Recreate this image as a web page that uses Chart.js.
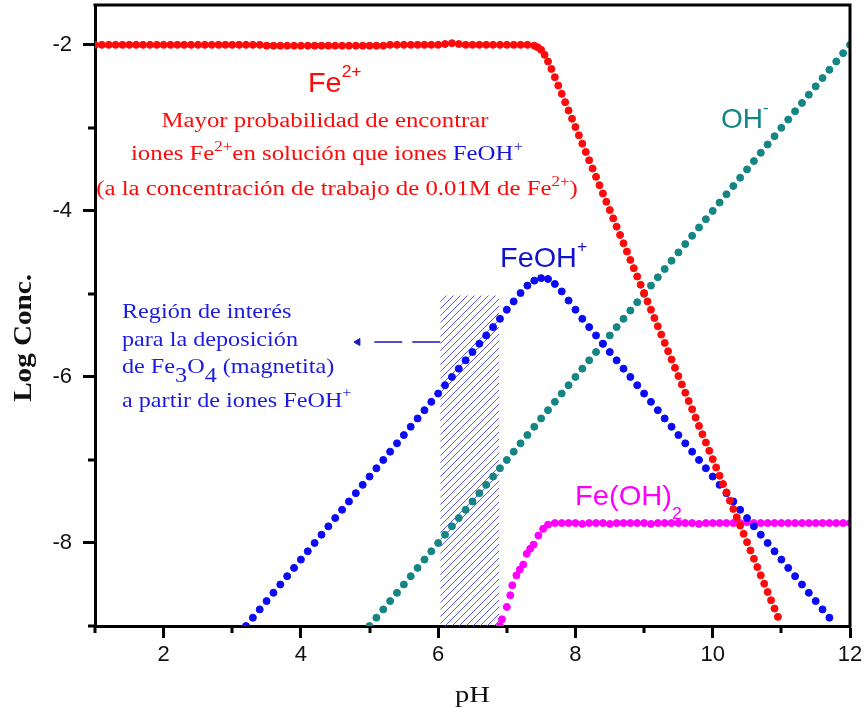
<!DOCTYPE html>
<html><head><meta charset="utf-8">
<script src="https://cdn.jsdelivr.net/npm/chart.js@4.4.1/dist/chart.umd.min.js"></script>
<style>html,body{margin:0;padding:0;background:#fff;}canvas{display:block;}</style>
</head><body>
<canvas id="c" width="865" height="710"></canvas>
<script>
// ---------- tick labels ----------
const xTickLabels = [2, 4, 6, 8, 10, 12];
const yTickLabels = [-2, -4, -6, -8];
const xMinorTicks = [1, 3, 5, 7, 9, 11];
const yMinorTicks = [-9, -7, -5, -3];

// ---------- Fe2+ ----------
const fe2PH = [1.0,1.1,1.2,1.3,1.4,1.5,1.6,1.7,1.8,1.9,
  2.0,2.1,2.2,2.3,2.4,2.5,2.6,2.7,2.8,2.9,
  3.0,3.1,3.2,3.3,3.4,3.5,3.6,3.7,3.8,3.9,
  4.0,4.1,4.2,4.3,4.4,4.5,4.6,4.7,4.8,4.9,
  5.0,5.1,5.2,5.3,5.4,5.5,5.6,5.7,5.8,5.9,
  6.0,6.1,6.2,6.3,6.4,6.5,6.6,6.7,6.8,6.9,
  7.0,7.1,7.2,7.3,7.4,
  7.45,7.5,7.55,7.6,7.65,7.7,7.75,7.8,7.85,7.9,7.95,
  8.0,8.05,8.1,8.15,8.2,8.25,8.3,8.35,8.4,8.45,8.5,8.55,8.6,8.65,8.7,8.75,8.8,8.85,8.9,8.95,
  9.0,9.05,9.1,9.15,9.2,9.25,9.3,9.35,9.4,9.45,9.5,9.55,9.6,9.65,9.7,9.75,9.8,9.85,9.9,9.95,
  10.0,10.05,10.1,10.15,10.2,10.25,10.3,10.35,10.4,10.45,10.5,10.55,10.6,10.65,10.7,10.75,10.8,10.85,10.9,10.95];
const fe2Log = [-2.00,-2.00,-2.00,-2.00,-2.00,-2.00,-2.00,-2.00,-2.00,-2.00,
  -2.00,-2.00,-2.00,-2.00,-2.00,-2.00,-2.00,-2.00,-2.00,-2.00,
  -2.00,-2.00,-2.00,-2.00,-2.00,-2.01,-2.01,-2.01,-2.01,-2.01,
  -2.01,-2.01,-2.01,-2.01,-2.01,-2.01,-2.01,-2.01,-2.01,-2.01,
  -2.01,-2.01,-2.01,-2.00,-2.00,-2.00,-2.00,-2.00,-2.00,-2.00,
  -2.00,-1.99,-1.98,-1.99,-2.00,-2.00,-2.00,-2.00,-2.00,-2.00,
  -2.00,-2.00,-2.00,-2.00,-2.01,
  -2.03,-2.06,-2.12,-2.20,-2.29,-2.39,-2.49,-2.59,-2.69,-2.79,-2.89,
  -2.99,-3.09,-3.19,-3.29,-3.39,-3.49,-3.59,-3.69,-3.79,-3.89,-3.99,-4.09,-4.19,-4.29,-4.39,-4.49,-4.59,-4.69,-4.79,-4.89,
  -4.99,-5.09,-5.19,-5.29,-5.39,-5.49,-5.59,-5.69,-5.79,-5.89,-5.99,-6.09,-6.19,-6.29,-6.39,-6.49,-6.59,-6.69,-6.79,-6.89,
  -6.99,-7.09,-7.19,-7.29,-7.39,-7.49,-7.59,-7.69,-7.79,-7.89,-7.99,-8.09,-8.19,-8.29,-8.39,-8.49,-8.59,-8.69,-8.79,-8.89];

// ---------- FeOH+ ----------
const feohPH = [3.2,3.3,3.4,3.5,3.6,3.7,3.8,3.9,
  4.0,4.1,4.2,4.3,4.4,4.5,4.6,4.7,4.8,4.9,
  5.0,5.1,5.2,5.3,5.4,5.5,5.6,5.7,5.8,5.9,
  6.0,6.1,6.2,6.3,6.4,6.5,6.6,6.7,6.8,6.9,
  7.0,7.1,7.2,7.3,7.4,7.5,7.6,7.7,7.8,7.9,
  8.0,8.1,8.2,8.3,8.4,8.5,8.6,8.7,8.8,8.9,
  9.0,9.1,9.2,9.3,9.4,9.5,9.6,9.7,9.8,9.9,
  10.0,10.1,10.2,10.3,10.4,10.5,10.6,10.7,10.8,10.9,
  11.0,11.1,11.2,11.3,11.4,11.5,11.6,11.7];
const feohLog = [-9.00,-8.90,-8.80,-8.70,-8.60,-8.50,-8.40,-8.30,
  -8.20,-8.10,-8.00,-7.90,-7.80,-7.70,-7.60,-7.50,-7.40,-7.30,
  -7.20,-7.10,-7.00,-6.90,-6.80,-6.70,-6.60,-6.50,-6.40,-6.30,
  -6.20,-6.10,-6.00,-5.90,-5.80,-5.70,-5.60,-5.50,-5.40,-5.30,
  -5.19,-5.09,-4.99,-4.90,-4.84,-4.81,-4.82,-4.88,-4.97,-5.08,
  -5.19,-5.30,-5.40,-5.50,-5.60,-5.70,-5.80,-5.90,-6.00,-6.10,
  -6.20,-6.30,-6.40,-6.50,-6.60,-6.70,-6.80,-6.90,-7.00,-7.10,
  -7.20,-7.30,-7.40,-7.50,-7.60,-7.70,-7.80,-7.90,-8.00,-8.10,
  -8.20,-8.30,-8.40,-8.50,-8.60,-8.70,-8.80,-8.90];

// ---------- OH- ----------
const ohPH = [5.0,5.1,5.2,5.3,5.4,5.5,5.6,5.7,5.8,5.9,
  6.0,6.1,6.2,6.3,6.4,6.5,6.6,6.7,6.8,6.9,
  7.0,7.1,7.2,7.3,7.4,7.5,7.6,7.7,7.8,7.9,
  8.0,8.1,8.2,8.3,8.4,8.5,8.6,8.7,8.8,8.9,
  9.0,9.1,9.2,9.3,9.4,9.5,9.6,9.7,9.8,9.9,
  10.0,10.1,10.2,10.3,10.4,10.5,10.6,10.7,10.8,10.9,
  11.0,11.1,11.2,11.3,11.4,11.5,11.6,11.7,11.8,11.9,12.0];
const ohLog = [-9.0,-8.9,-8.8,-8.7,-8.6,-8.5,-8.4,-8.3,-8.2,-8.1,
  -8.0,-7.9,-7.8,-7.7,-7.6,-7.5,-7.4,-7.3,-7.2,-7.1,
  -7.0,-6.9,-6.8,-6.7,-6.6,-6.5,-6.4,-6.3,-6.2,-6.1,
  -6.0,-5.9,-5.8,-5.7,-5.6,-5.5,-5.4,-5.3,-5.2,-5.1,
  -5.0,-4.9,-4.8,-4.7,-4.6,-4.5,-4.4,-4.3,-4.2,-4.1,
  -4.0,-3.9,-3.8,-3.7,-3.6,-3.5,-3.4,-3.3,-3.2,-3.1,
  -3.0,-2.9,-2.8,-2.7,-2.6,-2.5,-2.4,-2.3,-2.2,-2.1,-2.0];

// ---------- Fe(OH)2 ----------
const feoh2PH = [6.90,6.93,7.00,7.05,7.08,7.14,7.19,7.24,7.29,7.34,7.39,7.46,7.53,7.60,7.70,
  7.8,7.9,8.0,8.1,8.2,8.3,8.4,8.5,8.6,8.7,8.8,8.9,
  9.0,9.1,9.2,9.3,9.4,9.5,9.6,9.7,9.8,9.9,
  10.0,10.1,10.2,10.3,10.4,10.5,10.6,10.7,10.8,10.9,
  11.0,11.1,11.2,11.3,11.4,11.5,11.6,11.7,11.8,11.9,12.0];
const feoh2Log = [-9.00,-8.92,-8.77,-8.63,-8.51,-8.39,-8.32,-8.26,-8.13,-8.07,-8.02,-7.91,-7.83,-7.78,-7.76,
  -7.76,-7.76,-7.76,-7.77,-7.76,-7.76,-7.76,-7.77,-7.76,-7.76,-7.76,-7.76,
  -7.76,-7.77,-7.76,-7.76,-7.76,-7.76,-7.76,-7.76,-7.77,-7.76,
  -7.76,-7.76,-7.76,-7.76,-7.76,-7.75,-7.76,-7.76,-7.76,-7.76,
  -7.76,-7.76,-7.76,-7.76,-7.76,-7.76,-7.76,-7.76,-7.76,-7.76,-7.76];

// ---------- region of interest & arrow ----------
const regionPH = [6.03, 6.89];
const regionLog = [-9, -5.02];
const arrowPH = [6.03, 4.93];
const arrowHeadPH = [4.83];
const arrowLog = -5.58;

// ---------- styles ----------
const RED = '#ff0a0a', BLUE = '#0a0af5', TEAL = '#148585', MAG = '#ff00ff';
const SANS = '"Liberation Sans", Arial, sans-serif';
const SERIF = '"Liberation Serif", "Times New Roman", serif';

const pts = (xs, ys) => xs.map((x, i) => ({x, y: ys[i]}));

const mainCtx = document.getElementById('c').getContext('2d');
function hatchPattern() {
  const c = document.createElement('canvas'); c.width = 7; c.height = 7;
  const g = c.getContext('2d');
  g.strokeStyle = '#4a4af2'; g.lineWidth = 0.9;
  g.beginPath();
  g.moveTo(0, 7); g.lineTo(7, 0);
  g.moveTo(-1, 1); g.lineTo(1, -1);
  g.moveTo(6, 8); g.lineTo(8, 6);
  g.stroke();
  return mainCtx.createPattern(c, 'repeat');
}

function seriesDS(label, xs, ys, color) {
  return {label, data: pts(xs, ys), showLine: false, pointRadius: 3.5, pointBorderWidth: 1,
    pointBackgroundColor: color, pointBorderColor: color, pointStyle: 'circle'};
}

// annotation texts (anchored in data units)
const notes = [
  {pH: 4.103, log: -2.568, align: 'left', fam: SANS, size: 28, sx: 1.03, supSize: 17, supDy: -15,
    runs: [{t: 'Fe', c: RED}, {t: '2+', c: RED, v: 'sup'}]},
  {pH: 4.351, log: -2.989, align: 'center', fam: SERIF, size: 20.5, sx: 1.21,
    runs: [{t: 'Mayor probabilidad de encontrar', c: RED}]},
  {pH: 4.380, log: -3.387, align: 'center', fam: SERIF, size: 20.5, sx: 1.21, supSize: 14, supDy: -9,
    runs: [{t: 'iones Fe', c: RED}, {t: '2+', c: RED, v: 'sup'}, {t: 'en solución que iones ', c: RED},
           {t: 'FeOH', c: '#1414e0'}, {t: '+', c: '#1414e0', v: 'sup'}]},
  {pH: 4.526, log: -3.809, align: 'center', fam: SERIF, size: 20.5, sx: 1.21, supSize: 14, supDy: -9,
    runs: [{t: '(a la concentración de trabajo de 0.01M de Fe', c: RED}, {t: '2+', c: RED, v: 'sup'}, {t: ')', c: RED}]},
  {pH: 10.121, log: -2.998, align: 'left', fam: SANS, size: 28, sx: 1.0, supSize: 17, supDy: -15,
    runs: [{t: 'OH', c: TEAL}, {t: '-', c: TEAL, v: 'sup'}]},
  {pH: 6.901, log: -4.676, align: 'left', fam: SANS, size: 28, sx: 1.03, supSize: 17, supDy: -15,
    runs: [{t: 'FeOH', c: '#1212cc'}, {t: '+', c: '#1212cc', v: 'sup'}]},
  {pH: 7.993, log: -7.543, align: 'left', fam: SANS, size: 28, sx: 1.04, subSize: 17, subDy: 14,
    runs: [{t: 'Fe(OH)', c: MAG}, {t: '2', c: MAG, v: 'sub'}]},
  {pH: 1.393, log: -5.290, align: 'left', fam: SERIF, size: 22, sx: 1.1,
    runs: [{t: 'Región de interés', c: '#1a1ae0'}]},
  {pH: 1.393, log: -5.627, align: 'left', fam: SERIF, size: 22, sx: 1.1,
    runs: [{t: 'para la deposición', c: '#1a1ae0'}]},
  {pH: 1.393, log: -5.952, align: 'left', fam: SERIF, size: 22, sx: 1.1, subSize: 22, subDy: 9,
    runs: [{t: 'de Fe', c: '#1a1ae0'}, {t: '3', c: '#1a1ae0', v: 'sub'}, {t: 'O', c: '#1a1ae0'},
           {t: '4', c: '#1a1ae0', v: 'sub'}, {t: ' (magnetita)', c: '#1a1ae0'}]},
  {pH: 1.393, log: -6.362, align: 'left', fam: SERIF, size: 22, sx: 1.1, supSize: 14, supDy: -10,
    runs: [{t: 'a partir de iones FeOH', c: '#1a1ae0'}, {t: '+', c: '#1a1ae0', v: 'sup'}]}
];

function drawRich(ctx, px, py, n) {
  const parts = n.runs.map(r => {
    const size = r.v === 'sup' ? n.supSize : r.v === 'sub' ? n.subSize : n.size;
    const font = (n.bold ? 'bold ' : '') + size + 'px ' + n.fam;
    ctx.font = font;
    return {r, font, w: ctx.measureText(r.t).width * n.sx,
      dy: r.v === 'sup' ? n.supDy : r.v === 'sub' ? n.subDy : 0};
  });
  const total = parts.reduce((s, p) => s + p.w, 0);
  let cx = n.align === 'center' ? px - total / 2 : px;
  ctx.textAlign = 'left'; ctx.textBaseline = 'alphabetic';
  for (const p of parts) {
    ctx.font = p.font; ctx.fillStyle = p.r.c;
    ctx.save(); ctx.translate(cx, py + p.dy); ctx.scale(n.sx, 1); ctx.fillText(p.r.t, 0, 0); ctx.restore();
    cx += p.w;
  }
}

const overlay = {
  id: 'overlay',
  afterDraw(chart) {
    const {ctx, chartArea: a, scales: {x, y}} = chart;
    ctx.save();
    ctx.strokeStyle = '#000'; ctx.lineWidth = 3; ctx.lineCap = 'butt';
    ctx.beginPath();
    ctx.moveTo(a.left - 1.5, a.top); ctx.lineTo(a.right, a.top); ctx.lineTo(a.right, a.bottom + 1.5);
    ctx.stroke();
    ctx.beginPath();
    for (const v of xMinorTicks) {
      const px = Math.round(x.getPixelForValue(v));
      ctx.moveTo(px, a.bottom); ctx.lineTo(px, a.bottom + 7);
    }
    for (const v of yMinorTicks) {
      const py = Math.round(y.getPixelForValue(v));
      ctx.moveTo(a.left, py); ctx.lineTo(a.left - 7, py);
    }
    ctx.stroke();
    for (const n of notes) drawRich(ctx, x.getPixelForValue(n.pH), y.getPixelForValue(n.log), n);
    // axis titles
    drawRich(ctx, (a.left + a.right) / 2, a.bottom + 76, {align: 'center', fam: SERIF, size: 23, sx: 1.24,
      runs: [{t: 'pH', c: '#111'}]});
    ctx.save();
    ctx.translate(a.left - 64, y.getPixelForValue(-5.53));
    ctx.rotate(-Math.PI / 2);
    drawRich(ctx, 0, 0, {align: 'center', fam: SERIF, size: 26, sx: 1.12, bold: true,
      runs: [{t: 'Log Conc.', c: '#111'}]});
    ctx.restore();
    ctx.restore();
  }
};

new Chart(mainCtx, {
  type: 'scatter',
  data: {
    datasets: [
      seriesDS('Fe2+', fe2PH, fe2Log, RED),
      seriesDS('FeOH+', feohPH, feohLog, BLUE),
      seriesDS('OH-', ohPH, ohLog, TEAL),
      seriesDS('Fe(OH)2', feoh2PH, feoh2Log, MAG),
      {label: 'region', data: regionPH.map(v => ({x: v, y: regionLog[1]})), showLine: true,
        borderWidth: 0, borderColor: 'rgba(0,0,0,0)', pointRadius: 0,
        fill: {value: regionLog[0]}, backgroundColor: hatchPattern(), order: 10},
      {label: 'arrow', data: arrowPH.map(v => ({x: v, y: arrowLog})), showLine: true,
        borderColor: '#1a1ab4', borderWidth: 1.5, borderDash: [28, 10], pointRadius: 0, order: 5},
      {label: 'arrowhead', data: arrowHeadPH.map(v => ({x: v, y: arrowLog})), showLine: false,
        pointStyle: 'triangle', rotation: -90, pointRadius: 4, pointBackgroundColor: '#1a1ab4',
        pointBorderColor: '#1a1ab4', pointBorderWidth: 1, order: 5}
    ]
  },
  options: {
    responsive: false, animation: false, devicePixelRatio: 1,
    layout: {padding: {left: 0, right: 15, top: 5, bottom: 0}},
    plugins: {legend: {display: false}, tooltip: {enabled: false}},
    scales: {
      x: {
        type: 'linear', min: 1, max: 12,
        afterFit: s => { s.height = 84; s.paddingLeft = 0; s.paddingRight = 0; },
        border: {display: true, color: '#000', width: 3},
        grid: {drawOnChartArea: false, drawTicks: true, tickLength: 12, tickWidth: 3,
          tickColor: c => (c.tick && xTickLabels.includes(c.tick.value)) ? '#000' : 'rgba(0,0,0,0)'},
        ticks: {stepSize: 1, autoSkip: false, maxRotation: 0, padding: 4, includeBounds: false,
          color: '#111', font: {family: SANS, size: 22},
          callback: v => xTickLabels.includes(v) ? String(v) : ''}
      },
      y: {
        type: 'linear', min: -9, max: -1.52,
        afterFit: s => { s.width = 95; s.paddingTop = 0; s.paddingBottom = 0; },
        border: {display: true, color: '#000', width: 3},
        grid: {drawOnChartArea: false, drawTicks: true, tickLength: 12, tickWidth: 3,
          tickColor: c => (c.tick && yTickLabels.includes(c.tick.value)) ? '#000' : 'rgba(0,0,0,0)'},
        ticks: {stepSize: 1, autoSkip: false, padding: 11, includeBounds: false,
          color: '#111', font: {family: SANS, size: 22},
          callback: v => yTickLabels.includes(v) ? String(v) : ''}
      }
    }
  },
  plugins: [overlay]
});
</script>
</body></html>
